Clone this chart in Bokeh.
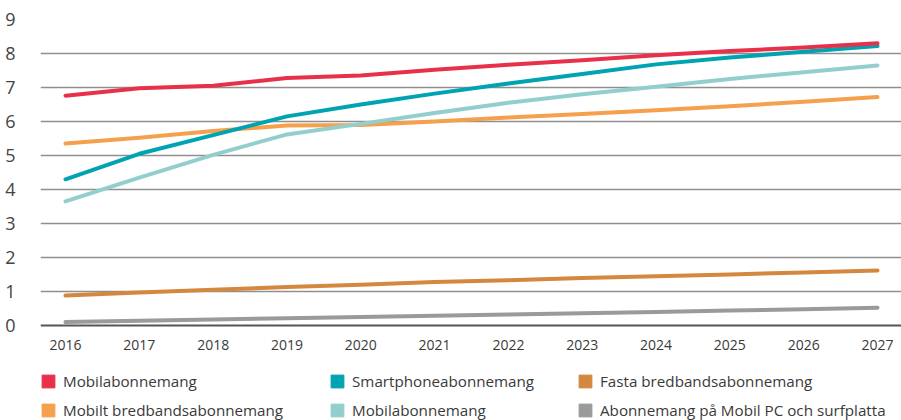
from bokeh.plotting import figure
from bokeh.models import Legend, LegendItem, FixedTicker, Range1d, ColumnDataSource, Span
from bokeh.core.properties import value
from bokeh.embed import file_html
from bokeh.resources import INLINE

years = [2016, 2017, 2018, 2019, 2020, 2021, 2022, 2023, 2024, 2025, 2026, 2027]
year_labels = [str(y) for y in years]
mobil = [6.76, 6.98, 7.05, 7.28, 7.35, 7.52, 7.67, 7.80, 7.95, 8.07, 8.18, 8.30]
smartphone = [4.30, 5.05, 5.60, 6.15, 6.50, 6.82, 7.12, 7.40, 7.68, 7.88, 8.05, 8.22]
mobil_light = [3.65, 4.35, 5.02, 5.62, 5.93, 6.25, 6.55, 6.80, 7.02, 7.25, 7.45, 7.65]
mobilt_bredband = [5.35, 5.52, 5.72, 5.88, 5.90, 6.00, 6.12, 6.22, 6.33, 6.45, 6.58, 6.72]
fasta = [0.88, 0.97, 1.05, 1.13, 1.20, 1.28, 1.33, 1.40, 1.45, 1.50, 1.56, 1.62]
pc_surf = [0.10, 0.14, 0.18, 0.21, 0.25, 0.29, 0.32, 0.36, 0.40, 0.44, 0.48, 0.52]
y_ticks = [0, 1, 2, 3, 4, 5, 6, 7, 8, 9]

names = ["Mobilabonnemang", "Smartphoneabonnemang", "Fasta bredbandsabonnemang",
         "Mobilt bredbandsabonnemang", "Mobilabonnemang", "Abonnemang på Mobil PC och surfplatta"]
series = [mobil, smartphone, fasta, mobilt_bredband, mobil_light, pc_surf]
colors = ["#e8304b", "#00a3b1", "#d4883f", "#f5a04c", "#92cfcc", "#9a9a9a"]
draw_order = [5, 2, 3, 4, 1, 0]

FONT = "Open Sans"
TXT = "#3a3a3a"

p = figure(width=901, height=420, output_backend="svg", toolbar_location=None,
           x_range=Range1d(2016 - 25 / 73.818, 2027 + 24 / 73.818), y_range=Range1d(-95 / 34, 9),
           x_axis_location=None,
           min_border_left=40, min_border_right=0, min_border_top=19, min_border_bottom=0)
p.outline_line_color = None
p.background_fill_color = "white"
p.border_fill_color = "white"

p.xgrid.grid_line_color = None
p.ygrid.grid_line_color = "#8f8f8f"
p.ygrid.grid_line_width = 1.5
p.ygrid.ticker = FixedTicker(ticks=y_ticks[1:])

p.yaxis.ticker = FixedTicker(ticks=y_ticks)
p.yaxis.axis_line_color = None
p.yaxis.major_tick_line_color = None
p.yaxis.minor_tick_line_color = None
p.yaxis.major_label_standoff = 19
p.yaxis.major_label_text_font = FONT
p.yaxis.major_label_text_font_size = "18px"
p.yaxis.major_label_text_color = "#444444"

p.add_layout(Span(location=0, dimension="width", line_color="#555555", line_width=2))

p.text(x=years, y=[0] * len(years), text=year_labels, y_offset=19,
       text_align="center", text_baseline="middle", text_font=value(FONT),
       text_font_size="14px", text_color=TXT)

for i in draw_order:
    p.line(years, series[i], line_color=colors[i], line_width=4,
           line_cap="round", line_join="round")

renderers = []
for i in range(6):
    src = ColumnDataSource(dict(l=[float("nan")], r=[float("nan")], t=[float("nan")], b=[float("nan")]))
    r = p.quad(left="l", right="r", top="t", bottom="b", source=src,
               fill_color=colors[i], line_color=colors[i])
    renderers.append(r)

col_x = [0, 289, 537]
for c in range(3):
    items = [LegendItem(label=names[c], renderers=[renderers[c]]),
             LegendItem(label=names[c + 3], renderers=[renderers[c + 3]])]
    lg = Legend(items=items, location=(col_x[c], 0), orientation="vertical",
                border_line_color=None, background_fill_alpha=0,
                glyph_width=16, glyph_height=16, label_height=16, spacing=9,
                label_text_font=FONT, label_text_font_size="15.2px", label_text_color=TXT,
                label_standoff=7, padding=0, margin=0)
    p.add_layout(lg, "center")

open("out.html", "w").write(file_html(p, INLINE))
